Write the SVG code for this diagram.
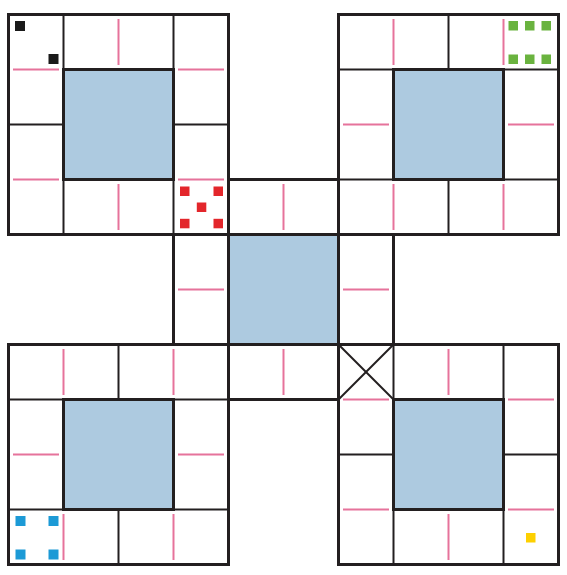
<svg xmlns="http://www.w3.org/2000/svg" width="567" height="575" viewBox="0 0 567 575">
<style>
.bg{fill:#ffffff}
.frame{fill:none;stroke:#231f20;stroke-width:3}
.home{fill:#adcae0;stroke:#231f20;stroke-width:3}
.thin{stroke:#231f20;stroke-width:2;fill:none}
.pink{stroke:#e6739b;stroke-width:2;fill:none}
.blk{fill:#1a1a1a}
.red{fill:#e3262b}
.grn{fill:#6ab33f}
.cyn{fill:#1c9ad6}
.yel{fill:#fdd000}
</style>
<rect class="bg" x="0" y="0" width="567" height="575"/>

<g id="block-top-left">
  <rect class="frame" x="8.5" y="14.5" width="220" height="220"/>
  <line class="thin" x1="63.5" y1="14.5" x2="63.5" y2="69.5"/>
  <line class="thin" x1="63.5" y1="179.5" x2="63.5" y2="234.5"/>
  <line class="thin" x1="173.5" y1="14.5" x2="173.5" y2="69.5"/>
  <line class="thin" x1="173.5" y1="179.5" x2="173.5" y2="234.5"/>
  <line class="thin" x1="8.5" y1="124.5" x2="63.5" y2="124.5"/>
  <line class="thin" x1="173.5" y1="124.5" x2="228.5" y2="124.5"/>
  <line class="pink" x1="13" y1="69.5" x2="59" y2="69.5"/>
  <line class="pink" x1="13" y1="179.5" x2="59" y2="179.5"/>
  <line class="pink" x1="178" y1="69.5" x2="224" y2="69.5"/>
  <line class="pink" x1="178" y1="179.5" x2="224" y2="179.5"/>
  <line class="pink" x1="118.5" y1="19" x2="118.5" y2="65"/>
  <line class="pink" x1="118.5" y1="184" x2="118.5" y2="230"/>
  <rect class="home" x="63.5" y="69.5" width="110" height="110"/>
  <rect class="blk" x="15" y="21" width="10" height="10"/>
  <rect class="blk" x="48.5" y="54" width="10" height="10"/>
  <rect class="red" x="180" y="186.5" width="9.5" height="9.5"/>
  <rect class="red" x="213.5" y="186.5" width="9.5" height="9.5"/>
  <rect class="red" x="196.8" y="202.5" width="9.5" height="9.5"/>
  <rect class="red" x="180" y="218.8" width="9.5" height="9.5"/>
  <rect class="red" x="213.5" y="218.8" width="9.5" height="9.5"/>
</g>

<g id="block-top-right">
  <rect class="frame" x="338.5" y="14.5" width="220" height="220"/>
  <line class="thin" x1="338.5" y1="69.5" x2="393.5" y2="69.5"/>
  <line class="thin" x1="503.5" y1="69.5" x2="558.5" y2="69.5"/>
  <line class="thin" x1="338.5" y1="179.5" x2="393.5" y2="179.5"/>
  <line class="thin" x1="503.5" y1="179.5" x2="558.5" y2="179.5"/>
  <line class="thin" x1="448.5" y1="14.5" x2="448.5" y2="69.5"/>
  <line class="thin" x1="448.5" y1="179.5" x2="448.5" y2="234.5"/>
  <line class="pink" x1="393.5" y1="19" x2="393.5" y2="65"/>
  <line class="pink" x1="393.5" y1="184" x2="393.5" y2="230"/>
  <line class="pink" x1="503.5" y1="19" x2="503.5" y2="65"/>
  <line class="pink" x1="503.5" y1="184" x2="503.5" y2="230"/>
  <line class="pink" x1="343" y1="124.5" x2="389" y2="124.5"/>
  <line class="pink" x1="508" y1="124.5" x2="554" y2="124.5"/>
  <rect class="home" x="393.5" y="69.5" width="110" height="110"/>
  <rect class="grn" x="508.5" y="21" width="9.5" height="9.5"/>
  <rect class="grn" x="525" y="21" width="9.5" height="9.5"/>
  <rect class="grn" x="541.5" y="21" width="9.5" height="9.5"/>
  <rect class="grn" x="508.5" y="54.5" width="9.5" height="9.5"/>
  <rect class="grn" x="525" y="54.5" width="9.5" height="9.5"/>
  <rect class="grn" x="541.5" y="54.5" width="9.5" height="9.5"/>
</g>

<g id="block-bottom-left">
  <rect class="frame" x="8.5" y="344.5" width="220" height="220"/>
  <line class="thin" x1="8.5" y1="399.5" x2="63.5" y2="399.5"/>
  <line class="thin" x1="173.5" y1="399.5" x2="228.5" y2="399.5"/>
  <line class="thin" x1="8.5" y1="509.5" x2="63.5" y2="509.5"/>
  <line class="thin" x1="173.5" y1="509.5" x2="228.5" y2="509.5"/>
  <line class="thin" x1="118.5" y1="344.5" x2="118.5" y2="399.5"/>
  <line class="thin" x1="118.5" y1="509.5" x2="118.5" y2="564.5"/>
  <line class="pink" x1="63.5" y1="349" x2="63.5" y2="395"/>
  <line class="pink" x1="63.5" y1="514" x2="63.5" y2="560"/>
  <line class="pink" x1="173.5" y1="349" x2="173.5" y2="395"/>
  <line class="pink" x1="173.5" y1="514" x2="173.5" y2="560"/>
  <line class="pink" x1="13" y1="454.5" x2="59" y2="454.5"/>
  <line class="pink" x1="178" y1="454.5" x2="224" y2="454.5"/>
  <rect class="home" x="63.5" y="399.5" width="110" height="110"/>
  <rect class="cyn" x="15.5" y="516" width="10" height="10"/>
  <rect class="cyn" x="48.5" y="516" width="10" height="10"/>
  <rect class="cyn" x="15.5" y="549.5" width="10" height="10"/>
  <rect class="cyn" x="48.5" y="549.5" width="10" height="10"/>
</g>

<g id="block-bottom-right">
  <rect class="frame" x="338.5" y="344.5" width="220" height="220"/>
  <line class="thin" x1="393.5" y1="344.5" x2="393.5" y2="399.5"/>
  <line class="thin" x1="393.5" y1="509.5" x2="393.5" y2="564.5"/>
  <line class="thin" x1="503.5" y1="344.5" x2="503.5" y2="399.5"/>
  <line class="thin" x1="503.5" y1="509.5" x2="503.5" y2="564.5"/>
  <line class="thin" x1="338.5" y1="454.5" x2="393.5" y2="454.5"/>
  <line class="thin" x1="503.5" y1="454.5" x2="558.5" y2="454.5"/>
  <line class="pink" x1="343" y1="399.5" x2="389" y2="399.5"/>
  <line class="pink" x1="343" y1="509.5" x2="389" y2="509.5"/>
  <line class="pink" x1="508" y1="399.5" x2="554" y2="399.5"/>
  <line class="pink" x1="508" y1="509.5" x2="554" y2="509.5"/>
  <line class="pink" x1="448.5" y1="349" x2="448.5" y2="395"/>
  <line class="pink" x1="448.5" y1="514" x2="448.5" y2="560"/>
  <line class="thin" x1="338.5" y1="344.5" x2="393.5" y2="399.5"/>
  <line class="thin" x1="393.5" y1="344.5" x2="338.5" y2="399.5"/>
  <rect class="home" x="393.5" y="399.5" width="110" height="110"/>
  <rect class="yel" x="526" y="533" width="9.5" height="9.5"/>
</g>

<g id="center">
  <rect class="frame" x="228.5" y="179.5" width="110" height="55"/>
  <rect class="frame" x="228.5" y="344.5" width="110" height="55"/>
  <rect class="frame" x="173.5" y="234.5" width="55" height="110"/>
  <rect class="frame" x="338.5" y="234.5" width="55" height="110"/>
  <line class="pink" x1="283.5" y1="184" x2="283.5" y2="230"/>
  <line class="pink" x1="283.5" y1="349" x2="283.5" y2="395"/>
  <line class="pink" x1="178" y1="289.5" x2="224" y2="289.5"/>
  <line class="pink" x1="343" y1="289.5" x2="389" y2="289.5"/>
  <rect class="home" x="228.5" y="234.5" width="110" height="110"/>
</g>
</svg>
